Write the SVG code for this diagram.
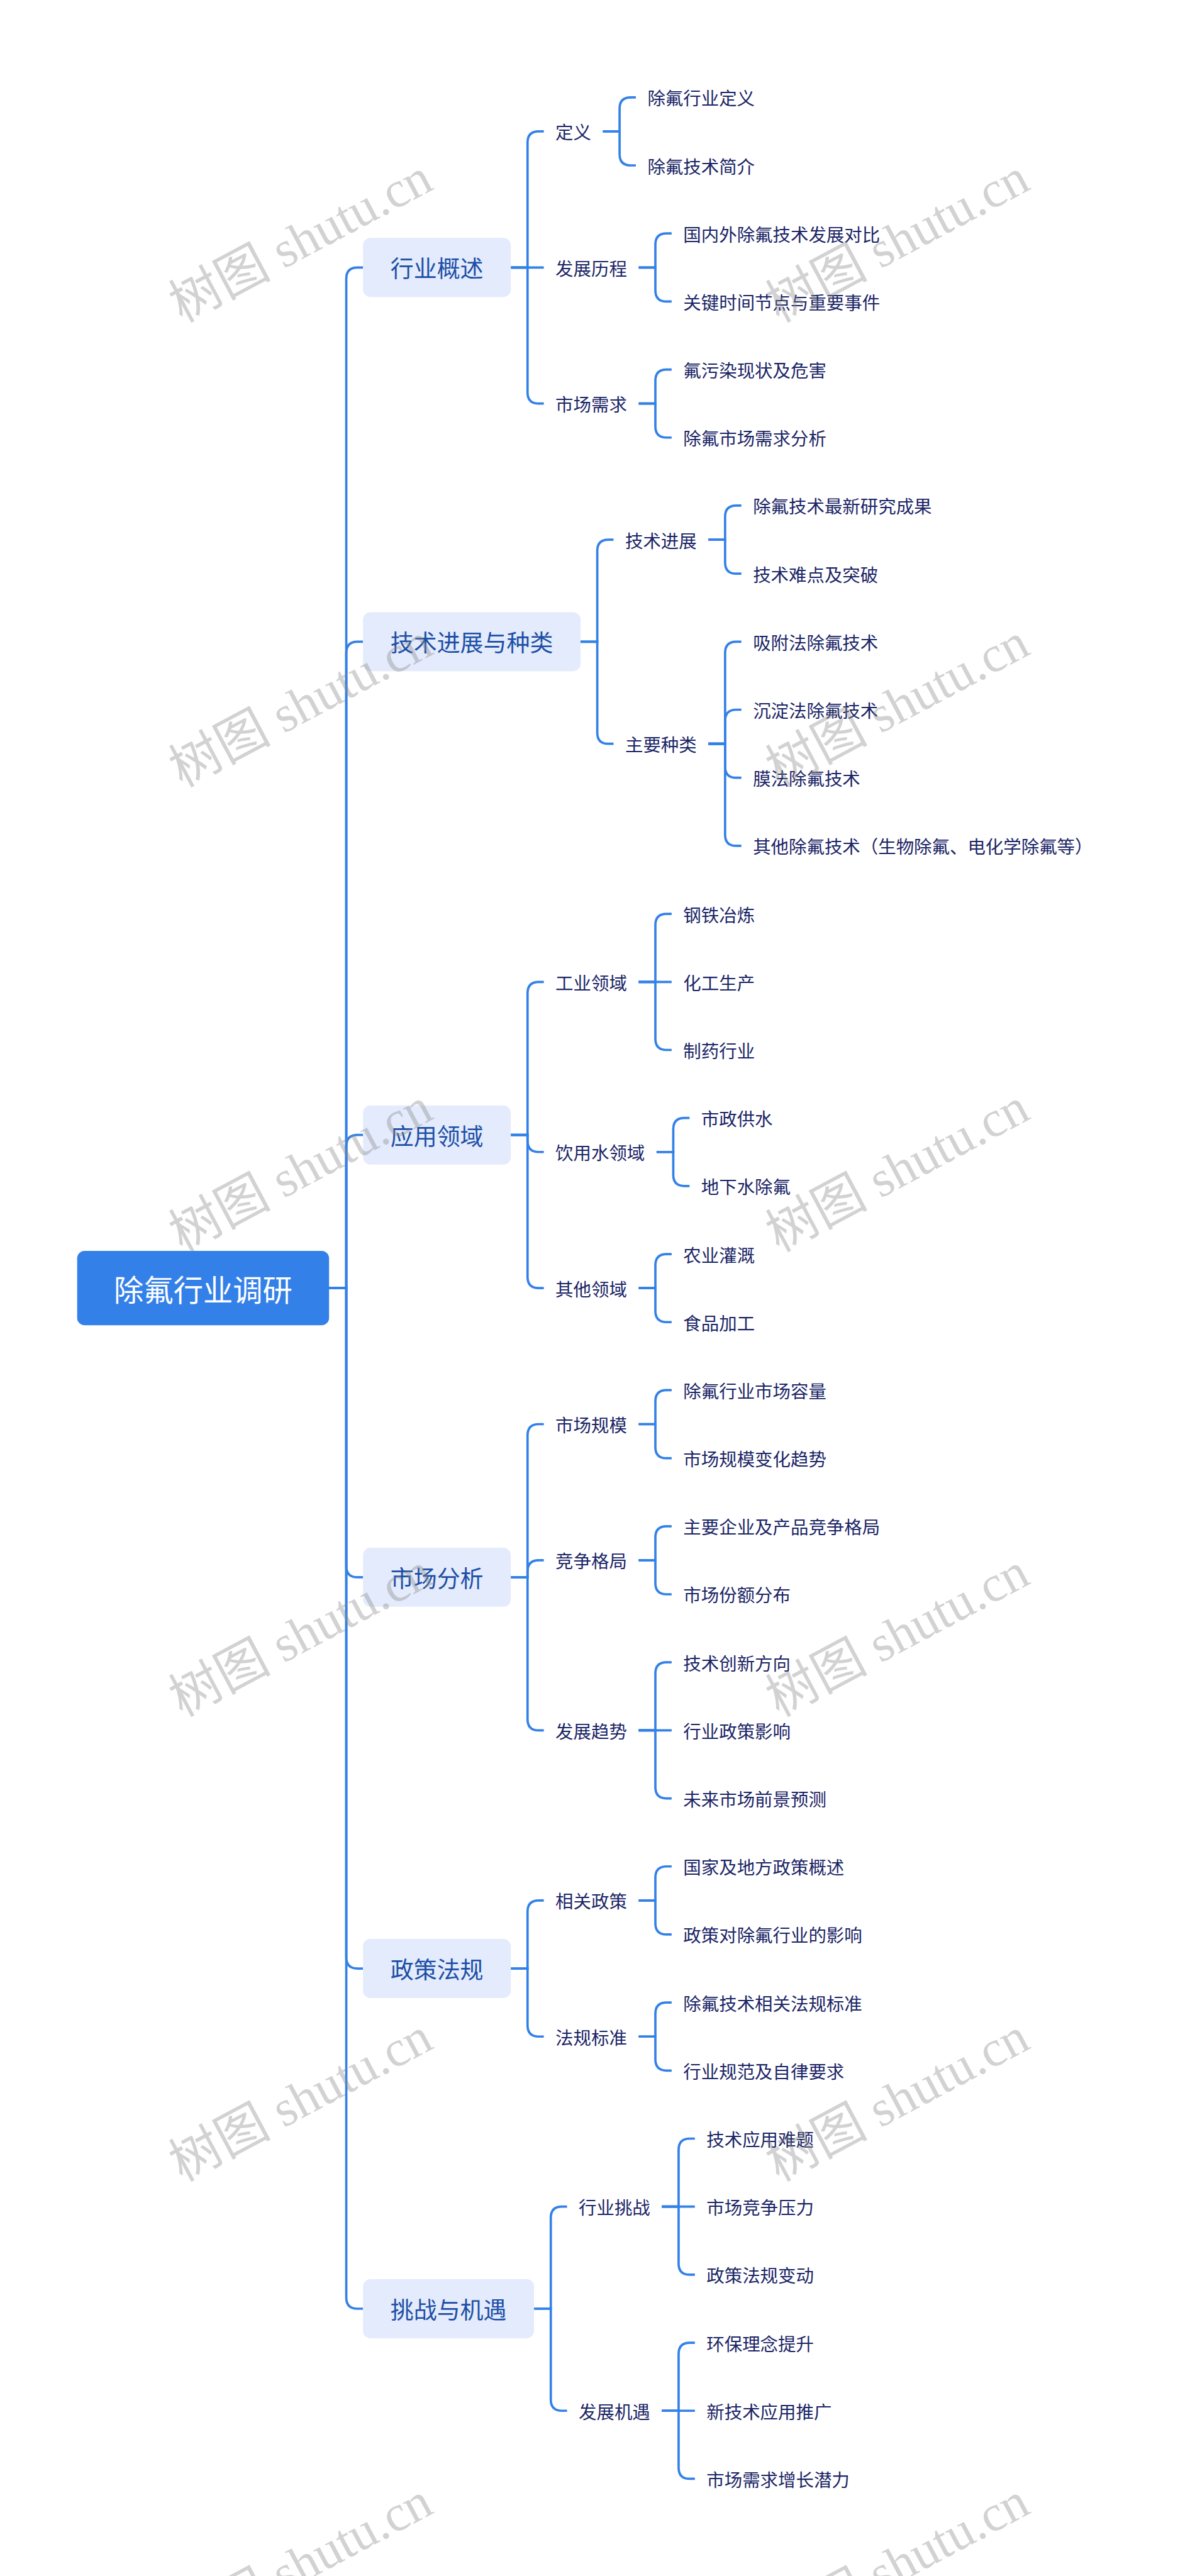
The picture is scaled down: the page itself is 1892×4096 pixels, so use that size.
<svg xmlns="http://www.w3.org/2000/svg" width="1892" height="4096" viewBox="0 0 1892 4096">
<style>
.c{fill:none;stroke:#3381E8;stroke-width:5;stroke-linecap:butt}
.root rect{fill:#3381E8}
.root text{fill:#ffffff;font-size:64px}
.l1 rect{fill:#E3EBFC}
.l1 text{fill:#1D4FA6;font-size:50px;text-anchor:middle}
.l2 text,.lf text{fill:#1B2566;font-size:38.5px}
text{font-family:"Noto Sans CJK SC","Noto Sans",sans-serif;dominant-baseline:central}
.root text{text-anchor:middle}
.wm text{font-family:"Liberation Serif","Noto Sans CJK SC",serif;font-size:110px;fill:#8a8a8a;fill-opacity:0.38;text-anchor:middle}
</style>
<rect width="1892" height="4096" fill="#ffffff"/>
<g transform="scale(0.739)">
<g id="connectors">
<path class="c" d="M708 2771.5 H745 V599.5 Q745 575.5 769 575.5 H781"/>
<path class="c" d="M708 2771.5 H745 V1404.7 Q745 1380.7 769 1380.7 H781"/>
<path class="c" d="M708 2771.5 H745 V2466.1 Q745 2442.1 769 2442.1 H781"/>
<path class="c" d="M708 2771.5 H745 V3369.7 Q745 3393.7 769 3393.7 H781"/>
<path class="c" d="M708 2771.5 H745 V4211.5 Q745 4235.5 769 4235.5 H781"/>
<path class="c" d="M708 2771.5 H745 V4943.5 Q745 4967.5 769 4967.5 H781"/>

<path class="c" d="M1099 575.5 H1135 V306.7 Q1135 282.7 1159 282.7 H1170"/>
<path class="c" d="M1099 575.5 H1170"/>
<path class="c" d="M1099 575.5 H1135 V844.3 Q1135 868.3 1159 868.3 H1170"/>
<path class="c" d="M1297 282.7 H1333 V233.5 Q1333 209.5 1357 209.5 H1368"/>
<path class="c" d="M1297 282.7 H1333 V331.9 Q1333 355.9 1357 355.9 H1368"/>
<path class="c" d="M1374 575.5 H1410 V526.3 Q1410 502.3 1434 502.3 H1445"/>
<path class="c" d="M1374 575.5 H1410 V624.7 Q1410 648.7 1434 648.7 H1445"/>
<path class="c" d="M1374 868.3 H1410 V819.1 Q1410 795.1 1434 795.1 H1445"/>
<path class="c" d="M1374 868.3 H1410 V917.5 Q1410 941.5 1434 941.5 H1445"/>

<path class="c" d="M1249 1380.7 H1285 V1185.1 Q1285 1161.1 1309 1161.1 H1320"/>
<path class="c" d="M1249 1380.7 H1285 V1576.3 Q1285 1600.3 1309 1600.3 H1320"/>
<path class="c" d="M1524 1161.1 H1560 V1111.9 Q1560 1087.9 1584 1087.9 H1595"/>
<path class="c" d="M1524 1161.1 H1560 V1210.3 Q1560 1234.3 1584 1234.3 H1595"/>
<path class="c" d="M1524 1600.3 H1560 V1404.7 Q1560 1380.7 1584 1380.7 H1595"/>
<path class="c" d="M1524 1600.3 H1560 V1551.1 Q1560 1527.1 1584 1527.1 H1595"/>
<path class="c" d="M1524 1600.3 H1560 V1649.5 Q1560 1673.5 1584 1673.5 H1595"/>
<path class="c" d="M1524 1600.3 H1560 V1795.9 Q1560 1819.9 1584 1819.9 H1595"/>

<path class="c" d="M1099 2442.1 H1135 V2136.7 Q1135 2112.7 1159 2112.7 H1170"/>
<path class="c" d="M1099 2442.1 H1135 V2454.7 Q1135 2478.7 1159 2478.7 H1170"/>
<path class="c" d="M1099 2442.1 H1135 V2747.5 Q1135 2771.5 1159 2771.5 H1170"/>
<path class="c" d="M1374 2112.7 H1410 V1990.3 Q1410 1966.3 1434 1966.3 H1445"/>
<path class="c" d="M1374 2112.7 H1445"/>
<path class="c" d="M1374 2112.7 H1410 V2235.1 Q1410 2259.1 1434 2259.1 H1445"/>
<path class="c" d="M1412.5 2478.7 H1448.5 V2429.5 Q1448.5 2405.5 1472.5 2405.5 H1483.5"/>
<path class="c" d="M1412.5 2478.7 H1448.5 V2527.9 Q1448.5 2551.9 1472.5 2551.9 H1483.5"/>
<path class="c" d="M1374 2771.5 H1410 V2722.3 Q1410 2698.3 1434 2698.3 H1445"/>
<path class="c" d="M1374 2771.5 H1410 V2820.7 Q1410 2844.7 1434 2844.7 H1445"/>

<path class="c" d="M1099 3393.7 H1135 V3088.3 Q1135 3064.3 1159 3064.3 H1170"/>
<path class="c" d="M1099 3393.7 H1135 V3381.1 Q1135 3357.1 1159 3357.1 H1170"/>
<path class="c" d="M1099 3393.7 H1135 V3699.1 Q1135 3723.1 1159 3723.1 H1170"/>
<path class="c" d="M1374 3064.3 H1410 V3015.1 Q1410 2991.1 1434 2991.1 H1445"/>
<path class="c" d="M1374 3064.3 H1410 V3113.5 Q1410 3137.5 1434 3137.5 H1445"/>
<path class="c" d="M1374 3357.1 H1410 V3307.9 Q1410 3283.9 1434 3283.9 H1445"/>
<path class="c" d="M1374 3357.1 H1410 V3406.3 Q1410 3430.3 1434 3430.3 H1445"/>
<path class="c" d="M1374 3723.1 H1410 V3600.7 Q1410 3576.7 1434 3576.7 H1445"/>
<path class="c" d="M1374 3723.1 H1445"/>
<path class="c" d="M1374 3723.1 H1410 V3845.5 Q1410 3869.5 1434 3869.5 H1445"/>

<path class="c" d="M1099 4235.5 H1135 V4113.1 Q1135 4089.1 1159 4089.1 H1170"/>
<path class="c" d="M1099 4235.5 H1135 V4357.9 Q1135 4381.9 1159 4381.9 H1170"/>
<path class="c" d="M1374 4089.1 H1410 V4039.9 Q1410 4015.9 1434 4015.9 H1445"/>
<path class="c" d="M1374 4089.1 H1410 V4138.3 Q1410 4162.3 1434 4162.3 H1445"/>
<path class="c" d="M1374 4381.9 H1410 V4332.7 Q1410 4308.7 1434 4308.7 H1445"/>
<path class="c" d="M1374 4381.9 H1410 V4431.1 Q1410 4455.1 1434 4455.1 H1445"/>

<path class="c" d="M1149 4967.5 H1185 V4771.9 Q1185 4747.9 1209 4747.9 H1220"/>
<path class="c" d="M1149 4967.5 H1185 V5163.1 Q1185 5187.1 1209 5187.1 H1220"/>
<path class="c" d="M1424 4747.9 H1460 V4625.5 Q1460 4601.5 1484 4601.5 H1495"/>
<path class="c" d="M1424 4747.9 H1495"/>
<path class="c" d="M1424 4747.9 H1460 V4870.3 Q1460 4894.3 1484 4894.3 H1495"/>
<path class="c" d="M1424 5187.1 H1460 V5064.7 Q1460 5040.7 1484 5040.7 H1495"/>
<path class="c" d="M1424 5187.1 H1495"/>
<path class="c" d="M1424 5187.1 H1460 V5309.5 Q1460 5333.5 1484 5333.5 H1495"/>
</g>

<g id="root" class="root"><rect x="166" y="2691.5" width="542" height="160" rx="16"/><text x="437" y="2771.5">除氟行业调研</text></g>

<g id="n1" class="l1"><rect x="781" y="512" width="318" height="127" rx="16"/><text x="940" y="575.5">行业概述</text></g>
<g id="n2" class="l1"><rect x="781" y="1317.2" width="468" height="127" rx="16"/><text x="1015" y="1380.7">技术进展与种类</text></g>
<g id="n3" class="l1"><rect x="781" y="2378.6" width="318" height="127" rx="16"/><text x="940" y="2442.1">应用领域</text></g>
<g id="n4" class="l1"><rect x="781" y="3330.2" width="318" height="127" rx="16"/><text x="940" y="3393.7">市场分析</text></g>
<g id="n5" class="l1"><rect x="781" y="4172" width="318" height="127" rx="16"/><text x="940" y="4235.5">政策法规</text></g>
<g id="n6" class="l1"><rect x="781" y="4904" width="368" height="127" rx="16"/><text x="965" y="4967.5">挑战与机遇</text></g>

<g id="n1-1" class="l2"><text x="1195" y="282.7">定义</text></g>
<g id="n1-2" class="l2"><text x="1195" y="575.5">发展历程</text></g>
<g id="n1-3" class="l2"><text x="1195" y="868.3">市场需求</text></g>
<g id="n2-1" class="l2"><text x="1345" y="1161.1">技术进展</text></g>
<g id="n2-2" class="l2"><text x="1345" y="1600.3">主要种类</text></g>
<g id="n3-1" class="l2"><text x="1195" y="2112.7">工业领域</text></g>
<g id="n3-2" class="l2"><text x="1195" y="2478.7">饮用水领域</text></g>
<g id="n3-3" class="l2"><text x="1195" y="2771.5">其他领域</text></g>
<g id="n4-1" class="l2"><text x="1195" y="3064.3">市场规模</text></g>
<g id="n4-2" class="l2"><text x="1195" y="3357.1">竞争格局</text></g>
<g id="n4-3" class="l2"><text x="1195" y="3723.1">发展趋势</text></g>
<g id="n5-1" class="l2"><text x="1195" y="4089.1">相关政策</text></g>
<g id="n5-2" class="l2"><text x="1195" y="4381.9">法规标准</text></g>
<g id="n6-1" class="l2"><text x="1245" y="4747.9">行业挑战</text></g>
<g id="n6-2" class="l2"><text x="1245" y="5187.1">发展机遇</text></g>

<g id="leaf0" class="lf"><text x="1393" y="209.5">除氟行业定义</text></g>
<g id="leaf1" class="lf"><text x="1393" y="355.9">除氟技术简介</text></g>
<g id="leaf2" class="lf"><text x="1470" y="502.3">国内外除氟技术发展对比</text></g>
<g id="leaf3" class="lf"><text x="1470" y="648.7">关键时间节点与重要事件</text></g>
<g id="leaf4" class="lf"><text x="1470" y="795.1">氟污染现状及危害</text></g>
<g id="leaf5" class="lf"><text x="1470" y="941.5">除氟市场需求分析</text></g>
<g id="leaf6" class="lf"><text x="1620" y="1087.9">除氟技术最新研究成果</text></g>
<g id="leaf7" class="lf"><text x="1620" y="1234.3">技术难点及突破</text></g>
<g id="leaf8" class="lf"><text x="1620" y="1380.7">吸附法除氟技术</text></g>
<g id="leaf9" class="lf"><text x="1620" y="1527.1">沉淀法除氟技术</text></g>
<g id="leaf10" class="lf"><text x="1620" y="1673.5">膜法除氟技术</text></g>
<g id="leaf11" class="lf"><text x="1620" y="1819.9">其他除氟技术（生物除氟、电化学除氟等）</text></g>
<g id="leaf12" class="lf"><text x="1470" y="1966.3">钢铁冶炼</text></g>
<g id="leaf13" class="lf"><text x="1470" y="2112.7">化工生产</text></g>
<g id="leaf14" class="lf"><text x="1470" y="2259.1">制药行业</text></g>
<g id="leaf15" class="lf"><text x="1508.5" y="2405.5">市政供水</text></g>
<g id="leaf16" class="lf"><text x="1508.5" y="2551.9">地下水除氟</text></g>
<g id="leaf17" class="lf"><text x="1470" y="2698.3">农业灌溉</text></g>
<g id="leaf18" class="lf"><text x="1470" y="2844.7">食品加工</text></g>
<g id="leaf19" class="lf"><text x="1470" y="2991.1">除氟行业市场容量</text></g>
<g id="leaf20" class="lf"><text x="1470" y="3137.5">市场规模变化趋势</text></g>
<g id="leaf21" class="lf"><text x="1470" y="3283.9">主要企业及产品竞争格局</text></g>
<g id="leaf22" class="lf"><text x="1470" y="3430.3">市场份额分布</text></g>
<g id="leaf23" class="lf"><text x="1470" y="3576.7">技术创新方向</text></g>
<g id="leaf24" class="lf"><text x="1470" y="3723.1">行业政策影响</text></g>
<g id="leaf25" class="lf"><text x="1470" y="3869.5">未来市场前景预测</text></g>
<g id="leaf26" class="lf"><text x="1470" y="4015.9">国家及地方政策概述</text></g>
<g id="leaf27" class="lf"><text x="1470" y="4162.3">政策对除氟行业的影响</text></g>
<g id="leaf28" class="lf"><text x="1470" y="4308.7">除氟技术相关法规标准</text></g>
<g id="leaf29" class="lf"><text x="1470" y="4455.1">行业规范及自律要求</text></g>
<g id="leaf30" class="lf"><text x="1520" y="4601.5">技术应用难题</text></g>
<g id="leaf31" class="lf"><text x="1520" y="4747.9">市场竞争压力</text></g>
<g id="leaf32" class="lf"><text x="1520" y="4894.3">政策法规变动</text></g>
<g id="leaf33" class="lf"><text x="1520" y="5040.7">环保理念提升</text></g>
<g id="leaf34" class="lf"><text x="1520" y="5187.1">新技术应用推广</text></g>
<g id="leaf35" class="lf"><text x="1520" y="5333.5">市场需求增长潜力</text></g>

<g id="watermarks" class="wm">
<text transform="translate(647 518) rotate(-28)">树图 shutu.cn</text>
<text transform="translate(1931 518) rotate(-28)">树图 shutu.cn</text>
<text transform="translate(647 1518) rotate(-28)">树图 shutu.cn</text>
<text transform="translate(1931 1518) rotate(-28)">树图 shutu.cn</text>
<text transform="translate(647 2518) rotate(-28)">树图 shutu.cn</text>
<text transform="translate(1931 2518) rotate(-28)">树图 shutu.cn</text>
<text transform="translate(647 3518) rotate(-28)">树图 shutu.cn</text>
<text transform="translate(1931 3518) rotate(-28)">树图 shutu.cn</text>
<text transform="translate(647 4518) rotate(-28)">树图 shutu.cn</text>
<text transform="translate(1931 4518) rotate(-28)">树图 shutu.cn</text>
<text transform="translate(647 5518) rotate(-28)">树图 shutu.cn</text>
<text transform="translate(1931 5518) rotate(-28)">树图 shutu.cn</text>
</g>
</g>
</svg>
